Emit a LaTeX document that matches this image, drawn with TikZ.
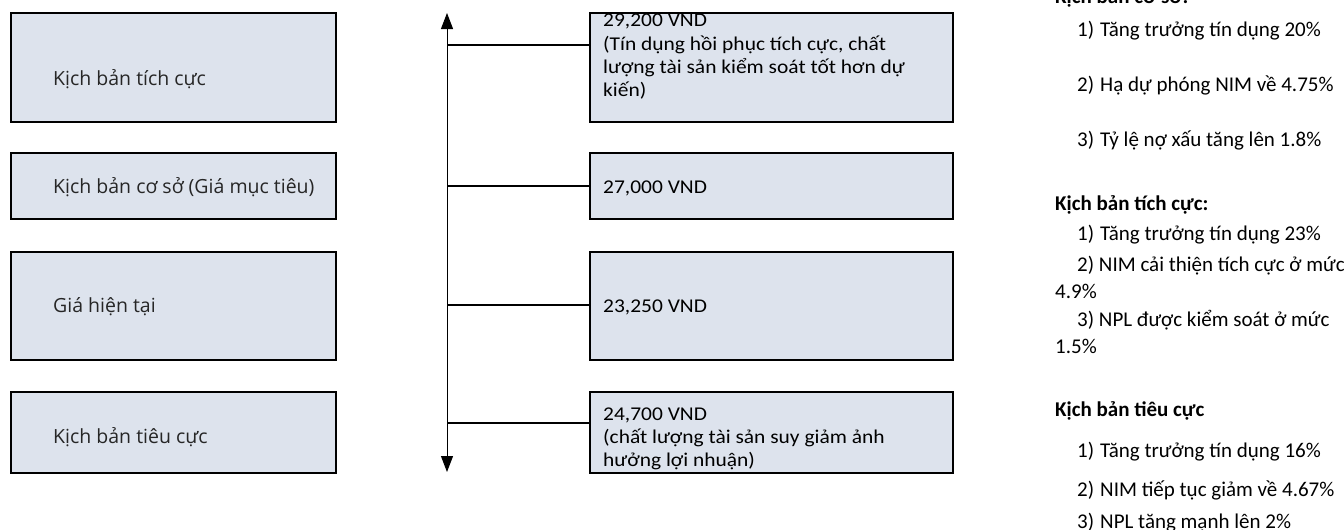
\documentclass[tikz,border=0pt]{standalone}
\usepackage{fontspec}
\setmainfont{Carlito}
\newfontfamily\pricefont[FakeStretch=1.1]{Carlito}
\newfontfamily\scenfont{Open Sans}
\usetikzlibrary{arrows.meta,positioning}
\definecolor{boxfill}{RGB}{221,227,237}
\definecolor{scentextcol}{RGB}{38,38,38}
\begin{document}
\begin{tikzpicture}[x=1pt,y=-1pt,
		scenbox/.style={draw=black,line width=2pt,fill=boxfill,minimum width=325pt,inner sep=0pt,outer sep=0pt,anchor=north west},
		pricebox/.style={draw=black,line width=2pt,fill=boxfill,minimum width=363pt,inner sep=0pt,outer sep=0pt,anchor=north west},
		scentext/.style={anchor=base west,inner sep=0pt,text=scentextcol,font=\scenfont\fontsize{19.5}{23}\selectfont},
		pricetext/.style={anchor=base west,inner sep=0pt,align=left,font=\pricefont\fontsize{19.5}{23.3}\selectfont},
		notehead/.style={anchor=base west,inner sep=0pt,font=\fontsize{21}{24}\selectfont\bfseries},
		note/.style={anchor=base west,inner sep=0pt,font=\fontsize{21}{24}\selectfont},
		link/.style={draw=black,line width=2pt},
		axisline/.style={draw=black,line width=1pt,{Triangle[width=12pt,length=16pt]}-{Triangle[width=12pt,length=16pt]}}]
		\newcommand{\numitem}[2]{\makebox[23pt][l]{#1}#2}
		\useasboundingbox (0,0) rectangle (1344,530);
		%Scenario boxes on the left
		\node [scenbox,minimum height=109pt] (l1) at (11,13) {};
		\node [scenbox,minimum height=66pt] (l2) at (11,153) {};
		\node [scenbox,minimum height=108pt] (l3) at (11,252) {};
		\node [scenbox,minimum height=81pt] (l4) at (11,392) {};
		\node [scentext] (lt1) at (53,85) {Kịch bản tích cực};
		\node [scentext] (lt2) at (53,193) {Kịch bản cơ sở (Giá mục tiêu)};
		\node [scentext] (lt3) at (53,312) {Giá hiện tại};
		\node [scentext] (lt4) at (53,443) {Kịch bản tiêu cực};
		%Price boxes on the right (multi-line texts sit on their last line)
		\node [pricebox,minimum height=109pt] (r1) at (590,13) {};
		\node [pricebox,minimum height=66pt] (r2) at (590,153) {};
		\node [pricebox,minimum height=108pt] (r3) at (590,252) {};
		\node [pricebox,minimum height=81pt] (r4) at (590,392) {};
		\node [pricetext] (rt1) at (603,96.7) {29,200 VND\\(Tín dụng hồi phục tích cực, chất\\lượng tài sản kiểm soát tốt hơn dự\\kiến)};
		\node [pricetext] (rt2) at (603,193) {27,000 VND};
		\node [pricetext] (rt3) at (603,312) {23,250 VND};
		\node [pricetext] (rt4) at (603,466.7) {24,700 VND\\(chất lượng tài sản suy giảm ảnh\\hưởng lợi nhuận)};
		%Price axis
		\coordinate (axtop) at (447,13);
		\coordinate (axbot) at (447,472);
		\draw [axisline] (axtop) -- (axbot);
		%Links from the axis to the prices
		\coordinate (k1) at (447,45);
		\coordinate (k2) at (447,186);
		\coordinate (k3) at (447,305);
		\coordinate (k4) at (447,423);
		\draw [link] (k1) -- (k1 -| r1.west);
		\draw [link] (k2) -- (k2 -| r2.west);
		\draw [link] (k3) -- (k3 -| r3.west);
		\draw [link] (k4) -- (k4 -| r4.west);
		%Notes: base scenario
		\node [notehead] (nh1) at (1055,3) {Kịch bản cơ sở:};
		\node [note] (n11) at (1077,36.5) {\numitem{1)}{Tăng trưởng tín dụng 20\%}};
		\node [note] (n12) at (1077,91.5) {\numitem{2)}{Hạ dự phóng NIM về 4.75\%}};
		\node [note] (n13) at (1077,146.5) {\numitem{3)}{Tỷ lệ nợ xấu tăng lên 1.8\%}};
		%Notes: positive scenario
		\node [notehead] (nh2) at (1055,210) {Kịch bản tích cực:};
		\node [note] (n21) at (1077,240.5) {\numitem{1)}{Tăng trưởng tín dụng 23\%}};
		\node [note] (n22) at (1077,271) {2) NIM cải thiện tích cực ở mức};
		\node [note] (n22b) at (1055,298) {4.9\%};
		\node [note] (n23) at (1077,326) {3) NPL được kiểm soát ở mức};
		\node [note] (n23b) at (1055,353) {1.5\%};
		%Notes: negative scenario
		\node [notehead] (nh3) at (1055,416.5) {Kịch bản tiêu cực};
		\node [note] (n31) at (1077,457) {\numitem{1)}{Tăng trưởng tín dụng 16\%}};
		\node [note] (n32) at (1077,496.5) {\numitem{2)}{NIM tiếp tục giảm về 4.67\%}};
		\node [note] (n33) at (1077,528) {\numitem{3)}{NPL tăng mạnh lên 2\%}};
\end{tikzpicture}
\end{document}
